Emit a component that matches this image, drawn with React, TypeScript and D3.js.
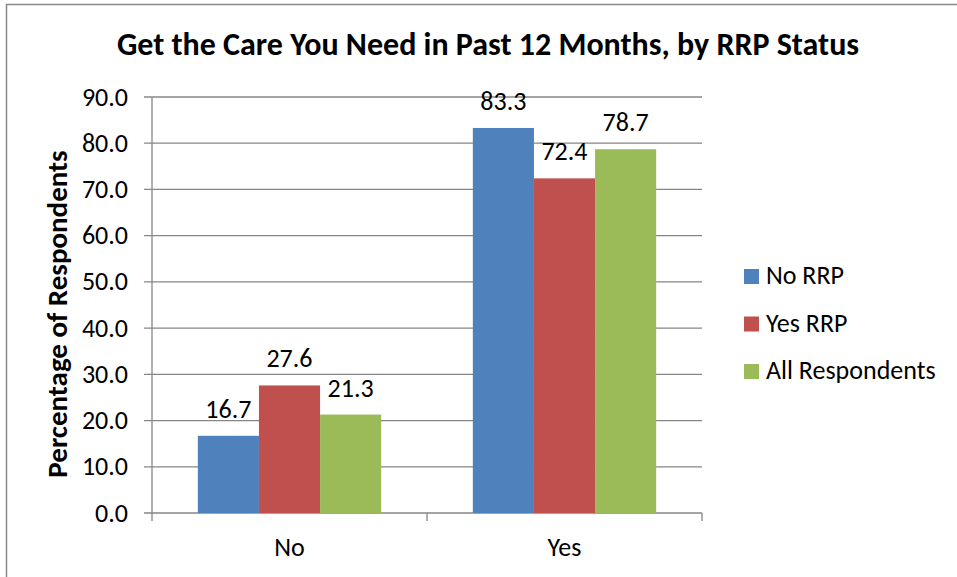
import React from "react";
import * as d3 from "d3";

const categories = ["No", "Yes"];
const seriesNames = ["No RRP", "Yes RRP", "All Respondents"];
const noRRP = [16.7, 83.3];
const yesRRP = [27.6, 72.4];
const allResp = [21.3, 78.7];
const yTicks = [0, 10, 20, 30, 40, 50, 60, 70, 80, 90];
const colors = ["#4F81BD", "#C0504D", "#9BBB59"];

const W = 957, H = 577;
const plotL = 152, plotR = 702, plotT = 97, plotB = 513;
const FONT = "Carlito, Calibri, 'Open Sans', 'Liberation Sans', sans-serif";

export default function App() {
  const series = [noRRP, yesRRP, allResp];
  const x0 = d3.scaleBand().domain(categories).range([plotL, plotR]).paddingInner(0).paddingOuter(0);
  const groupW = x0.bandwidth();
  const barW = groupW / (3 + 1.5);
  const y = d3.scaleLinear().domain([0, 90]).range([plotB, plotT]);

  return (
    <svg width={W} height={H} style={{ position: "absolute", left: 0, top: 0, fontFamily: FONT }}>
      <rect x={0} y={0} width={W} height={H} fill="#fff" />
      <path d={`M6.5,${H} V4.5 H${W}`} fill="none" stroke="#888" strokeWidth={1.5} />
      <text x={488} y={55} textAnchor="middle" fontSize={32} fontWeight="bold" fill="#000">
        Get the Care You Need in Past 12 Months, by RRP Status
      </text>
      {yTicks.map((t) => (
        <g key={t}>
          <line x1={plotL - 8} x2={plotR} y1={y(t)} y2={y(t)} stroke="#868686" strokeWidth={1.3} />
          <text x={128} y={y(t) + 8.5} textAnchor="end" fontSize={26} fill="#000">
            {t.toFixed(1)}
          </text>
        </g>
      ))}
      <line x1={plotL} x2={plotL} y1={plotT} y2={plotB} stroke="#868686" strokeWidth={1.3} />
      {[plotL, plotL + groupW, plotR].map((xv, i) => (
        <line key={i} x1={xv} x2={xv} y1={plotB} y2={plotB + 8} stroke="#868686" strokeWidth={1.3} />
      ))}
      {categories.map((c, ci) => {
        const gx = x0(c)! + barW * 0.75;
        return (
          <g key={c}>
            {series.map((s, si) => (
              <g key={si}>
                <rect x={gx + si * barW} y={y(s[ci])} width={barW} height={plotB - y(s[ci])} fill={colors[si]} />
                <text x={gx + si * barW + barW / 2} y={y(s[ci]) - 18} textAnchor="middle" fontSize={26} fill="#000">
                  {s[ci].toFixed(1)}
                </text>
              </g>
            ))}
            <text x={x0(c)! + groupW / 2} y={556} textAnchor="middle" fontSize={26} fill="#000">
              {c}
            </text>
          </g>
        );
      })}
      <text transform={`translate(67,314) rotate(-90)`} textAnchor="middle" fontSize={29} fontWeight="bold" fill="#000">
        Percentage of Respondents
      </text>
      {seriesNames.map((n, i) => (
        <g key={n}>
          <rect x={744} y={269 + i * 47.5} width={15} height={15} fill={colors[i]} />
          <text x={766} y={284 + i * 47.5} fontSize={26} fill="#000">{n}</text>
        </g>
      ))}
    </svg>
  );
}
